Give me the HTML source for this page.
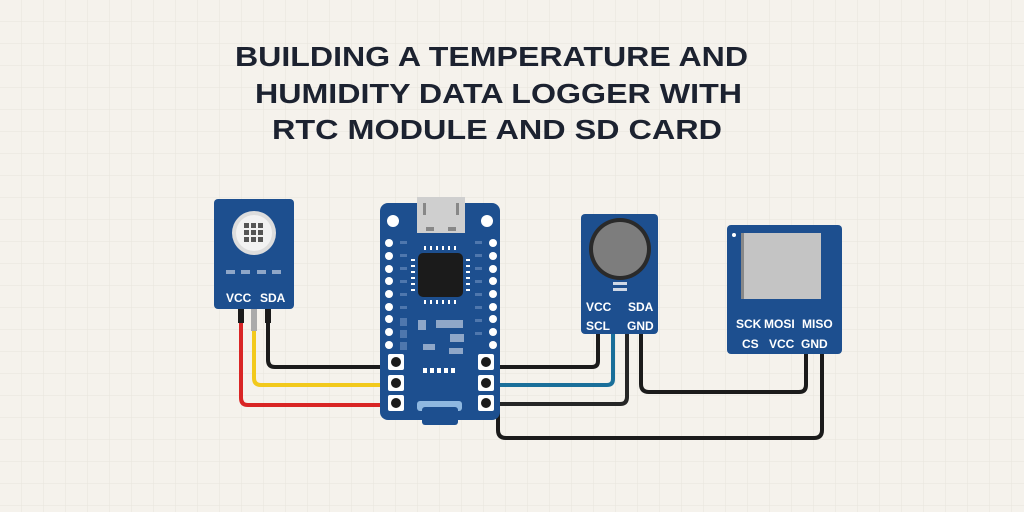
<!DOCTYPE html>
<html><head><meta charset="utf-8"><style>
html,body{margin:0;padding:0;width:1024px;height:512px;overflow:hidden;background:#f5f2ec}
svg{display:block}
text{font-family:"Liberation Sans",sans-serif;font-weight:bold}
</style></head><body>
<svg width="1024" height="512" viewBox="0 0 1024 512">
<defs>
<pattern id="g" width="22" height="22" patternUnits="userSpaceOnUse">
<path d="M22 0V22H0" fill="none" stroke="#e8e4dc" stroke-width="1"/>
</pattern>
</defs>
<rect width="1024" height="512" fill="#f5f2ec"/>
<rect width="1024" height="512" fill="url(#g)"/>

<g fill="#1c2230" font-size="28">
<text x="235" y="66" textLength="513" lengthAdjust="spacingAndGlyphs">BUILDING A TEMPERATURE AND</text>
<text x="255" y="103" textLength="487" lengthAdjust="spacingAndGlyphs">HUMIDITY DATA LOGGER WITH</text>
<text x="272" y="139" textLength="450" lengthAdjust="spacingAndGlyphs">RTC MODULE AND SD CARD</text>
</g>

<!-- wires -->
<g fill="none" stroke-width="4" stroke-linejoin="round">
<path d="M241 318V398q0 7 7 7H392" stroke="#d92525"/>
<path d="M254 330V378q0 7 7 7H392" stroke="#f2c91c"/>
<path d="M268 318V360q0 7 7 7H392" stroke="#1b1b1b"/>
<path d="M486 367H592q6 0 6-6V330" stroke="#1b1b1b"/>
<path d="M486 385H607q6 0 6-6V330" stroke="#1a6f9a"/>
<path d="M486 404H620q7 0 7-7V330" stroke="#262626"/>
<path d="M641 330V384q0 8 8 8H799q7 0 7-7V350" stroke="#1b1b1b"/>
<path d="M822 350V430q0 8-8 8H506q-8 0-8-8V404" stroke="#1b1b1b"/>
</g>
<rect x="238" y="309" width="6" height="14" fill="#1b1b1b"/>
<rect x="251" y="309" width="6" height="22" fill="#aaa"/>
<rect x="265" y="309" width="6" height="14" fill="#1b1b1b"/>

<!-- sensor -->
<rect x="214" y="199" width="80" height="110" rx="4" fill="#1d4f8f"/>
<circle cx="254" cy="233" r="22" fill="#ddd"/>
<circle cx="254" cy="233" r="18" fill="#f2f2f2"/>
<g fill="#555">
<rect x="244" y="223" width="5" height="5"/><rect x="251" y="223" width="5" height="5"/><rect x="258" y="223" width="5" height="5"/>
<rect x="244" y="230" width="5" height="5"/><rect x="251" y="230" width="5" height="5"/><rect x="258" y="230" width="5" height="5"/>
<rect x="244" y="237" width="5" height="5"/><rect x="251" y="237" width="5" height="5"/><rect x="258" y="237" width="5" height="5"/>
</g>
<g fill="#8fa7c8"><rect x="226" y="270" width="9" height="4"/><rect x="241" y="270" width="9" height="4"/><rect x="257" y="270" width="9" height="4"/><rect x="272" y="270" width="9" height="4"/></g>
<text x="226" y="302" fill="#fff" font-size="12">VCC</text>
<text x="260" y="302" fill="#fff" font-size="12">SDA</text>

<!-- MCU -->
<rect x="380" y="203" width="120" height="217" rx="8" fill="#1d4f8f"/>
<rect x="417" y="197" width="48" height="36" fill="#cfcfcf"/>
<rect x="423" y="203" width="3" height="12" fill="#888"/><rect x="456" y="203" width="3" height="12" fill="#888"/>
<rect x="426" y="227" width="8" height="4" fill="#888"/><rect x="448" y="227" width="8" height="4" fill="#888"/>
<circle cx="393" cy="221" r="6" fill="#fff"/><circle cx="487" cy="221" r="6" fill="#fff"/>
<g fill="#fff">
<circle cx="389" cy="243" r="4"/><circle cx="389" cy="256" r="4"/><circle cx="389" cy="269" r="4"/><circle cx="389" cy="281" r="4"/><circle cx="389" cy="294" r="4"/><circle cx="389" cy="307" r="4"/><circle cx="389" cy="319" r="4"/><circle cx="389" cy="332" r="4"/><circle cx="389" cy="345" r="4"/>
<circle cx="493" cy="243" r="4"/><circle cx="493" cy="256" r="4"/><circle cx="493" cy="269" r="4"/><circle cx="493" cy="281" r="4"/><circle cx="493" cy="294" r="4"/><circle cx="493" cy="307" r="4"/><circle cx="493" cy="319" r="4"/><circle cx="493" cy="332" r="4"/><circle cx="493" cy="345" r="4"/>
</g>
<g fill="#4f77ad">
<rect x="400" y="241" width="7" height="3"/><rect x="400" y="254" width="7" height="3"/><rect x="400" y="267" width="7" height="3"/><rect x="400" y="280" width="7" height="3"/><rect x="400" y="293" width="7" height="3"/><rect x="400" y="306" width="7" height="3"/>
<rect x="475" y="241" width="7" height="3"/><rect x="475" y="254" width="7" height="3"/><rect x="475" y="267" width="7" height="3"/><rect x="475" y="280" width="7" height="3"/><rect x="475" y="293" width="7" height="3"/><rect x="475" y="306" width="7" height="3"/><rect x="475" y="319" width="7" height="3"/><rect x="475" y="332" width="7" height="3"/>
<rect x="400" y="318" width="7" height="8"/><rect x="400" y="330" width="7" height="8"/><rect x="400" y="342" width="7" height="8"/>
</g>
<rect x="418" y="253" width="45" height="44" rx="5" fill="#1b1b1b"/>
<g stroke="#fff" stroke-width="2">
<path d="M425 250v-4M431 250v-4M437 250v-4M443 250v-4M449 250v-4M455 250v-4M425 300v4M431 300v4M437 300v4M443 300v4M449 300v4M455 300v4M415 260h-4M415 266h-4M415 272h-4M415 278h-4M415 284h-4M415 290h-4M466 260h4M466 266h4M466 272h4M466 278h4M466 284h4M466 290h4"/>
</g>
<g fill="#8fa7c8">
<rect x="418" y="320" width="8" height="10"/><rect x="436" y="320" width="27" height="8"/><rect x="450" y="334" width="14" height="8"/><rect x="423" y="344" width="12" height="6"/><rect x="449" y="348" width="14" height="6"/>
</g>
<g fill="#fff"><rect x="423" y="368" width="4" height="5"/><rect x="430" y="368" width="4" height="5"/><rect x="437" y="368" width="4" height="5"/><rect x="444" y="368" width="4" height="5"/><rect x="451" y="368" width="4" height="5"/></g>
<g fill="#fff">
<rect x="388" y="354" width="16" height="16" rx="2"/><rect x="388" y="375" width="16" height="16" rx="2"/><rect x="388" y="395" width="16" height="16" rx="2"/>
<rect x="478" y="354" width="16" height="16" rx="2"/><rect x="478" y="375" width="16" height="16" rx="2"/><rect x="478" y="395" width="16" height="16" rx="2"/>
</g>
<g fill="#1b1b1b">
<circle cx="396" cy="362" r="5"/><circle cx="396" cy="383" r="5"/><circle cx="396" cy="403" r="5"/>
<circle cx="486" cy="362" r="5"/><circle cx="486" cy="383" r="5"/><circle cx="486" cy="403" r="5"/>
</g>
<rect x="417" y="401" width="45" height="10" rx="3" fill="#8fb8e0"/>
<rect x="422" y="407" width="36" height="18" rx="3" fill="#1d4f8f"/>

<!-- RTC -->
<rect x="581" y="214" width="77" height="120" rx="4" fill="#1d4f8f"/>
<circle cx="620" cy="249" r="31" fill="#2a2a2a"/>
<circle cx="620" cy="249" r="27" fill="#7d7d7d"/>
<rect x="613" y="282" width="14" height="3" fill="#cfd8e6"/><rect x="613" y="288" width="14" height="3" fill="#cfd8e6"/>
<g fill="#fff" font-size="12">
<text x="586" y="311">VCC</text><text x="628" y="311">SDA</text>
<text x="586" y="330">SCL</text><text x="627" y="330">GND</text>
</g>

<!-- SD -->
<rect x="727" y="225" width="115" height="129" rx="4" fill="#1d4f8f"/>
<rect x="741" y="233" width="80" height="66" fill="#c4c4c4"/>
<rect x="741" y="233" width="3" height="66" fill="#888"/>
<circle cx="734" cy="235" r="2" fill="#fff"/>
<g fill="#fff" font-size="12">
<text x="736" y="328">SCK</text><text x="764" y="328">MOSI</text><text x="802" y="328">MISO</text>
<text x="742" y="348">CS</text><text x="769" y="348">VCC</text><text x="801" y="348">GND</text>
</g>
</svg>
</body></html>
